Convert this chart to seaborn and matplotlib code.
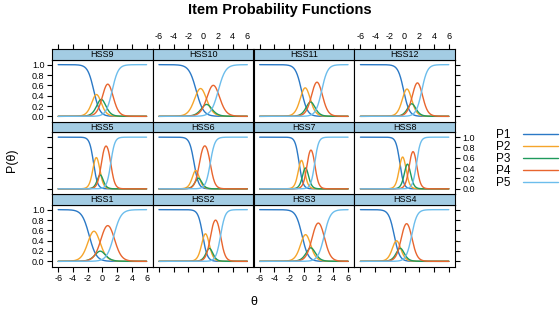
import numpy as np
import pandas as pd
import matplotlib
matplotlib.use("Agg")
import matplotlib.pyplot as plt
import seaborn as sns
from matplotlib.lines import Line2D

# graded response item parameters
items = ['HSS1', 'HSS2', 'HSS3', 'HSS4', 'HSS5', 'HSS6',
         'HSS7', 'HSS8', 'HSS9', 'HSS10', 'HSS11', 'HSS12']
slope = [2.05, 3.21, 2.38, 2.72, 3.69, 3.22, 3.81, 3.78, 2.43, 2.04, 2.48, 2.61]
b1 = [-1.79, -0.05, -0.25, -1.41, -1.20, -1.23, -0.65, -0.65, -1.17, -0.94, -0.32, -0.13]
b2 = [-0.49, 0.69, 0.71, -0.79, -0.44, -0.77, 0.00, 0.11, -0.43, 0.24, 0.68, 0.77]
b3 = [-0.10, 1.01, 1.16, -0.41, -0.14, -0.51, 0.45, 0.66, 0.13, 0.70, 1.14, 1.15]
b4 = [1.56, 2.37, 2.76, 0.95, 1.14, 0.97, 1.47, 1.62, 1.33, 2.06, 2.42, 2.33]
categories = ['P1', 'P2', 'P3', 'P4', 'P5']
colors = ['#2b79c6', '#f5a52b', '#1f9a5c', '#e8652e', '#6cbdec']

x_ticks = [-6, -4, -2, 0, 2, 4, 6]
y_ticks = [0.0, 0.2, 0.4, 0.6, 0.8, 1.0]

theta = np.linspace(-6, 6, 241)


def logistic(z):
    return 1.0 / (1.0 + np.exp(-z))


frames = []
for i, item in enumerate(items):
    cum = [np.ones_like(theta)]
    for b in (b1[i], b2[i], b3[i], b4[i]):
        cum.append(logistic(slope[i] * (theta - b)))
    cum.append(np.zeros_like(theta))
    for k, cat in enumerate(categories):
        frames.append(pd.DataFrame({'item': item, 'cat': cat,
                                    'theta': theta, 'P': cum[k] - cum[k + 1]}))
df = pd.concat(frames, ignore_index=True)

sns.set_theme(style='white')
plt.rcParams['font.family'] = ['Liberation Sans', 'DejaVu Sans']
plt.rcParams['axes.unicode_minus'] = False
plt.rcParams['text.color'] = 'black'

W, H = 560, 309
fig = plt.figure(figsize=(W / 100, H / 100), dpi=100)


def rect(left, top, w, h):
    return [left / W, 1 - (top + h) / H, w / W, h / H]


x0, pw = 52, 100.75
grid_top, strip_h, ph = 49, 10.5, 62
row_h = strip_h + ph
xlim = (-6.84, 6.84)
ylim = (-0.1, 1.1)
palette = dict(zip(categories, colors))
tick_kw = dict(direction='out', length=3.5, width=0.8, pad=2,
               labelsize=6.5, color='black', labelcolor='black')

for i, item in enumerate(items):
    r = 2 - i // 4   # row from top
    c = i % 4
    top = grid_top + r * row_h

    ax = fig.add_axes(rect(x0 + c * pw, top + strip_h, pw, ph))
    sns.lineplot(data=df[df['item'] == item], x='theta', y='P', hue='cat',
                 hue_order=categories, palette=palette, linewidth=1.0,
                 legend=False, ax=ax)
    ax.set_xlim(xlim)
    ax.set_ylim(ylim)
    ax.set_xticks(x_ticks)
    ax.set_yticks(y_ticks)
    ax.set_yticklabels([f'{v:.1f}' for v in y_ticks])
    ax.set_xlabel('')
    ax.set_ylabel('')
    ax.tick_params(axis='both', top=False, bottom=(r == 2),
                   left=(c == 0), right=(c == 3),
                   labeltop=False, labelbottom=(r == 2 and c in (0, 2)),
                   labelleft=(c == 0 and r in (0, 2)),
                   labelright=(c == 3 and r == 1), **tick_kw)
    for s in ax.spines.values():
        s.set_color('black')
        s.set_linewidth(0.8)

    sx = fig.add_axes(rect(x0 + c * pw, top, pw, strip_h))
    sx.set_facecolor('#a3cce3')
    sx.set_xlim(xlim)
    sx.set_yticks([])
    sx.set_xticks(x_ticks if r == 0 else [])
    sx.tick_params(axis='x', top=(r == 0), bottom=False, labelbottom=False,
                   labeltop=(r == 0 and c in (1, 3)), **tick_kw)
    for s in sx.spines.values():
        s.set_color('black')
        s.set_linewidth(0.8)
    sx.text(0.5, 0.45, item, transform=sx.transAxes, ha='center', va='center',
            fontsize=6.5, color='black')

fig.text(0.5, 1 - 10 / H, 'Item Probability Functions', ha='center', va='center',
         fontsize=10.5, fontweight='bold')
fig.text(12 / W, 1 - 160 / H, 'P(θ)', rotation=90, ha='center', va='center',
         fontsize=9)
fig.text(253.5 / W, 1 - 302 / H, 'θ', ha='center', va='center', fontsize=9)

handles = [Line2D([], [], color=col, lw=1.0) for col in colors]
fig.legend(handles, categories, markerfirst=False, frameon=False,
           loc='upper left', bbox_to_anchor=(496 / W, 1 - 129 / H),
           fontsize=8.5, handlelength=2.9, handletextpad=1.1,
           labelspacing=0.0, borderpad=0, borderaxespad=0)

fig.savefig('out.png', dpi=100)
